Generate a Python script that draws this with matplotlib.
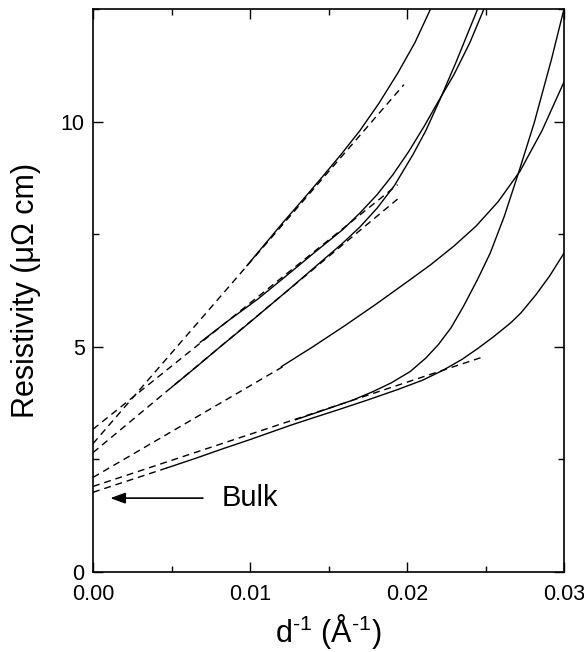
import numpy as np
import matplotlib
matplotlib.use('Agg')
import matplotlib.pyplot as plt
from matplotlib.ticker import MultipleLocator

#----フォント設定----#
plt.rcParams['font.family'] = ['Liberation Sans', 'DejaVu Sans']
plt.rcParams['mathtext.fontset'] = 'custom'
plt.rcParams['mathtext.rm'] = 'Liberation Sans'
plt.rcParams['mathtext.it'] = 'Liberation Sans:italic'

#----測定データ（膜厚の逆数 d^-1 [1/Å] と抵抗率 [μΩ cm]）----#
x_a = [0.0098, 0.0110, 0.0122, 0.0134, 0.0146, 0.0158, 0.0170, 0.0182, 0.0194, 0.0205, 0.0215]
y_a = [6.80, 7.30, 7.80, 8.28, 8.77, 9.27, 9.80, 10.40, 11.07, 11.75, 12.50]

x_b = [0.00683, 0.0085, 0.0105, 0.0125, 0.0142, 0.0159, 0.0170, 0.0181, 0.0191, 0.0201, 0.0211, 0.0220, 0.0230, 0.0240, 0.0249]
y_b = [5.10, 5.55, 6.06, 6.63, 7.12, 7.60, 7.97, 8.38, 8.82, 9.33, 9.90, 10.45, 11.05, 11.75, 12.50]

x_c = [0.0050, 0.0065, 0.0080, 0.0095, 0.0110, 0.0125, 0.0140, 0.0159, 0.0170, 0.0181, 0.0192, 0.0204, 0.0212, 0.0221, 0.0231, 0.0238, 0.0245]
y_c = [4.10, 4.53, 4.97, 5.40, 5.84, 6.28, 6.73, 7.30, 7.66, 8.08, 8.58, 9.28, 9.80, 10.49, 11.30, 11.90, 12.50]

x_d = [0.0120, 0.0140, 0.0160, 0.0180, 0.0200, 0.0215, 0.0230, 0.0244, 0.0258, 0.0272, 0.0286, 0.0300]
y_d = [4.56, 5.00, 5.46, 5.94, 6.44, 6.82, 7.24, 7.68, 8.22, 8.90, 9.80, 10.88]

x_e = [0.0129, 0.0150, 0.0165, 0.0178, 0.0190, 0.0202, 0.0212, 0.0220, 0.0228, 0.0236, 0.0245, 0.0253, 0.0262, 0.0271, 0.0281, 0.0292, 0.0300]
y_e = [3.38, 3.63, 3.81, 4.00, 4.20, 4.45, 4.75, 5.05, 5.42, 5.90, 6.50, 7.08, 7.90, 8.86, 9.97, 11.38, 12.50]

x_f = [0.0047, 0.0065, 0.0083, 0.0100, 0.0113, 0.0126, 0.0140, 0.0156, 0.0175, 0.0194, 0.0210, 0.0223, 0.0235, 0.0245, 0.0255, 0.0266, 0.02725, 0.0282, 0.0291, 0.0300]
y_f = [2.31, 2.52, 2.74, 2.94, 3.10, 3.26, 3.42, 3.60, 3.82, 4.05, 4.26, 4.48, 4.72, 4.96, 5.22, 5.53, 5.75, 6.15, 6.58, 7.08]

curves = [(x_a, y_a), (x_b, y_b), (x_c, y_c), (x_d, y_d), (x_e, y_e), (x_f, y_f)]

#----直線外挿（切片 = d^-1 -> 0 での抵抗率）----#
fit_intercept = [2.85, 3.17, 2.65, 2.10, 1.90, 1.77]
fit_x_end = [0.0198, 0.0194, 0.0194, 0.0121, 0.0248, 0.0047]
fit_y_end = [10.82, 8.60, 8.28, 4.56, 4.77, 2.31]

# バルクの抵抗率
bulk_rho = 1.64


#----グラフ----#
fig = plt.figure(figsize=(5.84, 6.52), dpi=100)
ax = fig.add_axes([93/584, 1 - 572/652, 471/584, 563/652])

for x, y in curves:
    ax.plot(x, y, color='black', linewidth=1.0)

for b, xe, ye in zip(fit_intercept, fit_x_end, fit_y_end):
    ax.plot([0, xe], [b, ye], color='black', linewidth=1.0, dashes=(5, 3.5))

# Bulk の矢印
ax.annotate('', xy=(0.0011, bulk_rho), xytext=(0.0070, bulk_rho),
            arrowprops=dict(arrowstyle='-|>,head_length=0.6,head_width=0.22',
                            mutation_scale=15, color='black', lw=1.2,
                            shrinkA=0, shrinkB=0))
ax.text(0.0082, bulk_rho, 'Bulk', fontsize=21, va='center', ha='left')

ax.set_xlim(0, 0.03)
ax.set_ylim(0, 12.5)
ax.xaxis.set_minor_locator(MultipleLocator(0.005))
ax.yaxis.set_major_locator(MultipleLocator(5))
ax.yaxis.set_minor_locator(MultipleLocator(2.5))
ax.set_xticks([0, 0.01, 0.02, 0.03])
ax.set_xticklabels(['0.00', '0.01', '0.02', '0.03'])
ax.tick_params(which='both', direction='in', top=True, right=True, labelsize=15.5, width=1.0)
ax.tick_params(which='major', length=7)
ax.tick_params(which='minor', length=4)
ax.tick_params(axis='x', which='major', pad=9)
ax.tick_params(axis='y', which='major', pad=6)
for s in ax.spines.values():
    s.set_linewidth(1.2)

ax.set_xlabel('d$^{\u20101}$ (Å$^{\u20101}$)', fontsize=22, labelpad=5)
ax.set_ylabel('Resistivity (μΩ cm)', fontsize=22, labelpad=14)

fig.savefig('out.png', dpi=100)
